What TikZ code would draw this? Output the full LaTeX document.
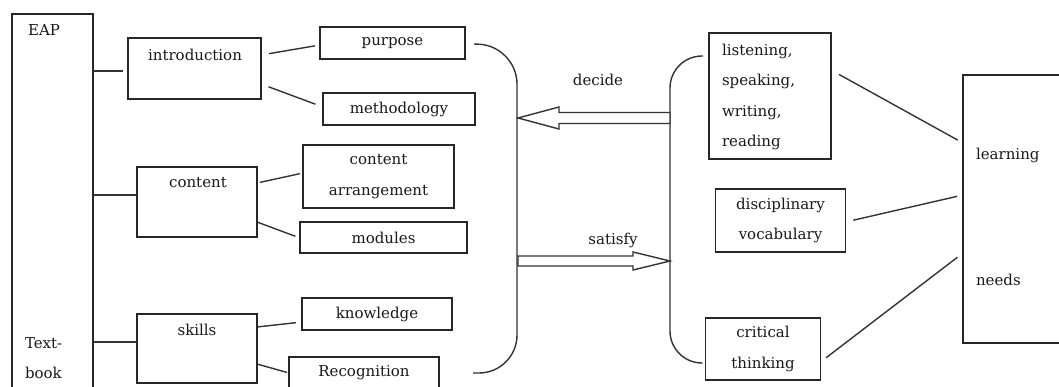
\documentclass[tikz,border=0pt]{standalone}
\usepackage{fontspec}
\setmainfont{DejaVu Serif}
\begin{document}
\begin{tikzpicture}[x=1pt,y=-1pt,
  every node/.style={inner sep=0pt, outer sep=0pt, text=black!90},
  txt/.style={font=\fontsize{15}{30.5}\selectfont, align=center},
  ltxt/.style={font=\fontsize{15}{30.5}\selectfont, align=left, anchor=west},
  box/.style={draw=black!85, line width=1.5pt, txt},
  ln/.style={draw=black!80, line width=1.4pt},
  harrow/.style={draw=black!80, line width=1.4pt, fill=white, line join=miter}]
\useasboundingbox (0,0) rectangle (1059,387);
\clip (0,0) rectangle (1059,387);
\fill[white] (0,0) rectangle (1059,387);
% left column
\node[box, minimum width=81, minimum height=390] (eap) at (52.5,209) {};
\node[txt] (eapt) at (44,30) {EAP};
\node[ltxt] (text1) at (25,343) {Text-};
\node[ltxt] (text2) at (25,373) {book};
% level 2
\node[box, minimum width=133, minimum height=61] (intro) at (194.5,68.5) {};
\node[txt] (introt) at (195,55) {introduction};
\node[box, minimum width=120, minimum height=70] (content) at (197,202) {};
\node[txt] (contentt) at (198,183) {content};
\node[box, minimum width=120, minimum height=69] (skills) at (197,348.5) {};
\node[txt] (skillst) at (197,330) {skills};
% level 3
\node[box, minimum width=145, minimum height=32] (purpose) at (392.5,43) {purpose};
\node[box, minimum width=152, minimum height=32] (method) at (399,109) {methodology};
\node[box, minimum width=151, minimum height=63] (arrange) at (378.5,176.5) {content\\arrangement};
\node[box, minimum width=167, minimum height=31] (modules) at (383.5,237.5) {modules};
\node[box, minimum width=150, minimum height=32] (know) at (377,314) {knowledge};
\node[box, minimum width=150, minimum height=32] (recog) at (364,373) {Recognition};
% connectors left
\draw[ln, shorten >=5] (eap.east |- 0,71) -- (intro.west |- 0,71);
\draw[ln] (eap.east |- 0,195) -- (content.west |- 0,195);
\draw[ln] (eap.east |- 0,342) -- (skills.west |- 0,342);
\draw[ln, shorten <=8, shorten >=5] (intro.east |- 0,55) -- (purpose.west |- 0,45);
\draw[ln, shorten <=8, shorten >=8] (intro.east |- 0,84) -- (method.west |- 0,107);
\draw[ln, shorten <=3, shorten >=3] (content.east |- 0,183) -- (arrange.west |- 0,173);
\draw[ln, shorten <=1, shorten >=5] (content.east |- 0,222) -- (modules.west |- 0,238);
\draw[ln, shorten <=1, shorten >=6] (skills.east |- 0,327) -- (know.west |- 0,322);
\draw[ln, shorten <=1, shorten >=2] (skills.east |- 0,364) -- (recog.west |- 0,373);
% left bracket
\coordinate (lbt) at ([xshift=9]purpose.east |- 0,44);
\coordinate (lbb) at ([xshift=34]recog.east |- 0,373);
\draw[ln, rounded corners=38] (lbt) -- (517,46) -- (517,373) -- (lbb);
% right side boxes
\node[box, minimum width=122, minimum height=126] (lsrw) at (770,96) {};
\node[ltxt] (lsrwt) at (722,97) {listening,\\speaking,\\writing,\\reading};
\node[box, minimum width=130, minimum height=63] (disc) at (780.5,220.5) {disciplinary\\vocabulary};
\node[box, minimum width=115, minimum height=62] (crit) at (763,349) {critical\\thinking};
\node[box, minimum width=130, minimum height=268] (needs) at (1028,209) {};
\node[ltxt] (needs1) at (976,155) {learning};
\node[ltxt] (needs2) at (976,280) {needs};
% right bracket
\coordinate (rbt) at ([xshift=-6]lsrw.west |- 0,56);
\coordinate (rbb) at ([xshift=-3]crit.west |- 0,363);
\draw[ln, rounded corners=32] (rbt) -- (670,56) -- (670,363) -- (rbb);
% connectors right
\draw[ln, shorten <=9, shorten >=6] (lsrw.east |- 0,70) -- (needs.west |- 0,143);
\draw[ln, shorten <=8, shorten >=6] (disc.east |- 0,222) -- (needs.west |- 0,195);
\draw[ln, shorten <=7, shorten >=7] (crit.east |- 0,362) -- (needs.west |- 0,253);
% hollow arrows
\coordinate (dtip) at (518,118);
\coordinate (stip) at (670,261);
\draw[harrow] (dtip) -- (559,107) -- (559,112.5) -- (670,112.5) -- (670,123.5) -- (559,123.5) -- (559,129) -- cycle;
\draw[harrow] (stip) -- (633,252) -- (633,256) -- (518,256) -- (518,266) -- (633,266) -- (633,270) -- cycle;
\node[txt] (decide) at (598,80) {decide};
\node[txt] (satisfy) at (613,240) {satisfy};
\end{tikzpicture}
\end{document}
